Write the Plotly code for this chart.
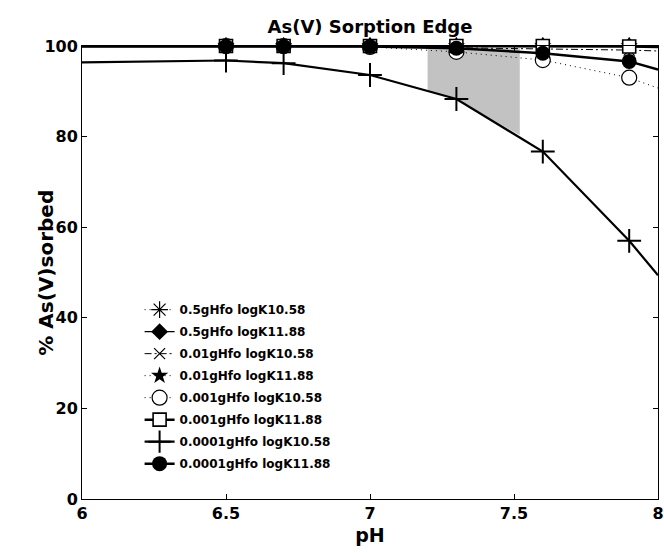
import plotly.graph_objects as go

# pH values where the model points are marked
ph = [6.5, 6.7, 7.0, 7.3, 7.6, 7.9]
# the curves run on to both axis limits
ph_lo, ph_hi = 6.0, 8.0

labels = [
    "0.5gHfo logK10.58",
    "0.5gHfo logK11.88",
    "0.01gHfo logK10.58",
    "0.01gHfo logK11.88",
    "0.001gHfo logK10.58",
    "0.001gHfo logK11.88",
    "0.0001gHfo logK10.58",
    "0.0001gHfo logK11.88",
]

# % As(V) sorbed at the marked pH values
s_05_1058 = [100.0, 100.0, 100.0, 100.0, 100.0, 100.0]
s_05_1188 = [100.0, 100.0, 100.0, 100.0, 100.0, 100.0]
s_001_1058 = [100.0, 100.0, 99.9, 99.6, 99.4, 99.1]
s_001_1188 = [100.0, 100.0, 100.0, 100.0, 100.0, 100.0]
s_0001_1058 = [100.0, 100.0, 99.8, 98.7, 96.9, 93.0]
s_0001_1188 = [100.0, 100.0, 100.0, 100.0, 100.0, 99.9]
s_00001_1058 = [96.8, 96.2, 93.6, 88.3, 76.7, 57.0]
s_00001_1188 = [99.9, 99.9, 99.9, 99.5, 98.4, 96.6]

# values where each curve meets pH 6 and pH 8
edge_lo = [100.0, 100.0, 100.0, 100.0, 100.0, 100.0, 96.4, 99.9]
edge_hi = [100.0, 100.0, 98.9, 100.0, 90.7, 99.8, 49.4, 94.8]

# shaded pH window: upper limit and the lower boundary along the curve
band_ph = [7.2, 7.3, 7.52]
band_top = 99.5
band_low = [90.2, 88.3, 80.3]

series = [s_05_1058, s_05_1188, s_001_1058, s_001_1188,
          s_0001_1058, s_0001_1188, s_00001_1058, s_00001_1188]

DOT = "1px,4px"
DASHDOT = "7px,3px,2px,3px"
styles = [
    dict(dash=DOT, width=1, symbol="asterisk-open", size=14, fill="black", mlw=1.2),
    dict(dash="solid", width=1.3, symbol="diamond", size=13, fill="black", mlw=0),
    dict(dash=DASHDOT, width=1, symbol="x-thin-open", size=11, fill="black", mlw=1.2),
    dict(dash=DOT, width=1, symbol="star", size=13, fill="black", mlw=0),
    dict(dash=DOT, width=1, symbol="circle", size=15, fill="white", mlw=1.2),
    dict(dash="solid", width=2.5, symbol="square", size=13, fill="white", mlw=1.6),
    dict(dash="solid", width=2.2, symbol="cross-thin-open", size=17, fill="black", mlw=2),
    dict(dash="solid", width=2.5, symbol="circle", size=15, fill="black", mlw=0),
]

FONT = "DejaVu Sans"
fig = go.Figure()

# shaded window
fig.add_trace(go.Scatter(
    x=[band_ph[0]] + band_ph + [band_ph[-1]],
    y=[band_top] + band_low + [band_top],
    fill="toself", fillcolor="#c2c2c2", mode="lines",
    line=dict(width=0, color="#c2c2c2"), showlegend=False, hoverinfo="skip",
))

for i, (lab, vals, st) in enumerate(zip(labels, series, styles)):
    line = dict(color="black", width=st["width"], dash=st["dash"])
    # short pieces of the curve out to the axis limits
    fig.add_trace(go.Scatter(
        x=[ph_lo, ph[0], None, ph[-1], ph_hi],
        y=[edge_lo[i], vals[0], None, vals[-1], edge_hi[i]],
        mode="lines", line=line, showlegend=False, hoverinfo="skip",
        legendgroup=lab,
    ))
    fig.add_trace(go.Scatter(
        x=ph, y=vals, name=lab, mode="lines+markers", line=line,
        legendgroup=lab, cliponaxis=False,
        marker=dict(symbol=st["symbol"], size=st["size"], color=st["fill"],
                    line=dict(color="black", width=st["mlw"])),
    ))

axis_common = dict(
    showgrid=False, zeroline=False, showline=True, linecolor="black",
    linewidth=1, mirror="ticks", ticks="inside", ticklen=5, tickcolor="black",
    automargin=False,
    tickfont=dict(family=FONT, size=16, color="black", weight="bold"),
)

fig.update_layout(
    width=664, height=553,
    margin=dict(l=82, r=6, t=46, b=54),
    paper_bgcolor="white", plot_bgcolor="white",
    title=dict(text="As(V) Sorption Edge", x=0.5, xref="paper", xanchor="center",
               y=1, yref="container", yanchor="top", pad=dict(t=20),
               automargin=False,
               font=dict(family=FONT, size=18, color="black", weight="bold")),
    xaxis=dict(range=[6, 8], tickvals=[6, 6.5, 7, 7.5, 8],
               ticktext=["6", "6.5", "7", "7.5", "8"],
               title=dict(text="pH", standoff=6,
                          font=dict(family=FONT, size=19, color="black", weight="bold")),
               **axis_common),
    yaxis=dict(range=[0, 100], tickvals=[0, 20, 40, 60, 80, 100], **axis_common),
    legend=dict(x=0.1, y=0.45, xanchor="left", yanchor="top",
                bgcolor="rgba(0,0,0,0)", borderwidth=0, tracegroupgap=3,
                font=dict(family=FONT, size=12, color="black", weight="bold")),
    showlegend=True,
    annotations=[dict(
        text="% As(V)sorbed", textangle=-90, showarrow=False,
        xref="paper", yref="paper", x=-0.064, y=0.5,
        xanchor="center", yanchor="middle",
        font=dict(family=FONT, size=20, color="black", weight="bold"),
    )],
)

fig.write_html("out.html")
